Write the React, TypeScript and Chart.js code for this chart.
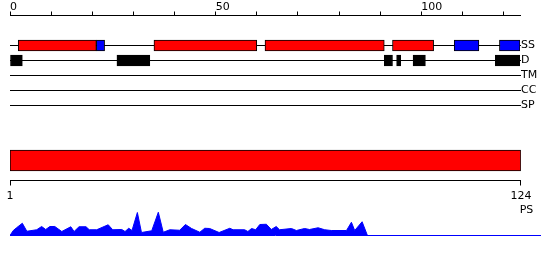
import React, { useEffect, useRef } from 'react';
import { Chart, registerables } from 'chart.js';

Chart.register(...registerables);

const FONT = 'DejaVu Sans';
Chart.defaults.font.family = FONT;

// ---- Feature tracks (residue ranges) ----
const TRACKS = ['SS', 'D', 'TM', 'CC', 'SP'];
const HELIX: [number, number][] = [[2, 21], [35, 60], [62, 91], [93, 103]];
const STRAND: [number, number][] = [[21, 23], [108, 114], [119, 124]];
const DISORDER: [number, number][] = [[0, 3], [26, 34], [91, 93], [94, 95], [98, 101], [118, 124]];
const SEQ_MIN = 0;
const SEQ_MAX = 124;
const TOP_TICK_STEP = 10;
const TOP_TICK_LABELS = [0, 50, 100];

// ---- Domain bar ----
const PS_LABEL = 'PS';
const PS_RANGE: [number, number] = [1, 124];
const PS_TICKS = [1, 124];

// ---- Profile ----
const PROFILE_POS = [0, 0.8, 1.6, 3.0, 4.1, 6.5, 7.7, 8.7, 9.7, 10.9, 12.6, 14.8, 15.6, 16.8, 18.5, 19.3, 21.1, 23.9, 25.0, 27.2, 28.0, 28.9, 29.7, 31.0, 32.0, 34.5, 36.1, 37.3, 38.9, 41.3, 42.7, 44.2, 46.2, 47.4, 48.6, 50.9, 53.5, 54.3, 57.1, 57.9, 58.8, 59.8, 60.8, 62.4, 63.6, 64.8, 65.6, 68.5, 69.7, 71.7, 72.9, 75.0, 76.6, 78.2, 81.9, 83.1, 83.9, 85.7, 87.0];
const PROFILE_VAL = [0, 0.2, 0.31, 0.49, 0.17, 0.23, 0.36, 0.24, 0.36, 0.36, 0.16, 0.35, 0.16, 0.35, 0.35, 0.23, 0.23, 0.43, 0.23, 0.24, 0.16, 0.29, 0.2, 0.92, 0.12, 0.19, 0.93, 0.13, 0.23, 0.21, 0.44, 0.28, 0.13, 0.29, 0.28, 0.12, 0.29, 0.23, 0.23, 0.16, 0.28, 0.23, 0.44, 0.45, 0.24, 0.36, 0.23, 0.28, 0.2, 0.28, 0.24, 0.31, 0.23, 0.2, 0.2, 0.53, 0.2, 0.55, 0];
const PROFILE_X_MAX = 129;

const COLOR_HELIX = '#ff0000';
const COLOR_STRAND = '#0000ff';
const COLOR_DISORDER = '#000000';
const COLOR_PROFILE = '#0000ff';
const TEXT = '#000000';

const font = { family: FONT, size: 11, weight: 'normal' as const };

function TrackChart() {
  const ref = useRef<HTMLCanvasElement>(null);
  useEffect(() => {
    const rowLabels = ['', '', ...TRACKS];
    const bars = [
      ...HELIX.map((r) => ({ y: TRACKS[0], x: r, c: COLOR_HELIX })),
      ...STRAND.map((r) => ({ y: TRACKS[0], x: r, c: COLOR_STRAND })),
      ...DISORDER.map((r) => ({ y: TRACKS[1], x: r, c: COLOR_DISORDER })),
    ];
    const chart = new Chart(ref.current!, {
      type: 'bar',
      data: {
        labels: rowLabels,
        datasets: [
          {
            data: bars.map((b) => ({ x: [b.x[0], b.x[1]], y: b.y })) as any,
            backgroundColor: bars.map((b) => b.c),
            borderColor: '#000',
            borderWidth: 1,
            borderSkipped: false,
            barThickness: 11,
          },
        ],
      },
      options: {
        animation: false,
        responsive: false,
        indexAxis: 'y',
        layout: { padding: { left: 10, right: 0, top: 0, bottom: 9.5 } },
        plugins: { legend: { display: false }, tooltip: { enabled: false } },
        scales: {
          x: {
            type: 'linear',
            position: 'top',
            min: SEQ_MIN,
            max: SEQ_MAX,
            ticks: {
              stepSize: TOP_TICK_STEP,
              includeBounds: false,
              autoSkip: false,
              maxRotation: 0,
              align: 'start',
              padding: -2,
              color: TEXT,
              font,
              callback: (v: any) => (TOP_TICK_LABELS.includes(Number(v)) ? String(v) : ''),
            },
            grid: { drawOnChartArea: false, tickLength: 4, color: '#000' },
            border: { color: '#000' },
            afterFit: (s: any) => {
              s.height = 15.5;
            },
          },
          y: {
            type: 'category',
            position: 'right',
            offset: false,
            grid: {
              offset: false,
              color: (c: any) => (c.index < 2 ? 'rgba(0,0,0,0)' : '#000'),
              tickLength: 1,
            },
            border: { display: false },
            ticks: { padding: 0, color: TEXT, font, autoSkip: false },
            afterFit: (s: any) => {
              s.width = 30;
            },
          },
        },
      },
    });
    return () => chart.destroy();
  }, []);
  return <canvas ref={ref} width={550} height={115} style={{ position: 'absolute', left: 0, top: 0 }} />;
}

function DomainChart() {
  const ref = useRef<HTMLCanvasElement>(null);
  useEffect(() => {
    const chart = new Chart(ref.current!, {
      type: 'bar',
      data: {
        labels: [PS_LABEL],
        datasets: [
          {
            data: [{ x: [PS_RANGE[0], PS_RANGE[1]], y: PS_LABEL }] as any,
            backgroundColor: COLOR_HELIX,
            borderColor: '#000',
            borderWidth: 1,
            borderSkipped: false,
            barThickness: 21,
          },
        ],
      },
      options: {
        animation: false,
        responsive: false,
        indexAxis: 'y',
        layout: { padding: { left: 10, right: 16.7, top: 0.5, bottom: 3.1 } },
        plugins: {
          legend: { display: false },
          tooltip: { enabled: false },
          title: {
            display: true,
            text: PS_LABEL,
            position: 'bottom',
            align: 'end',
            color: TEXT,
            font,
            padding: 0,
          },
        },
        scales: {
          x: {
            type: 'linear',
            position: 'bottom',
            min: PS_RANGE[0],
            max: PS_RANGE[1],
            afterBuildTicks: (s: any) => {
              s.ticks = PS_TICKS.map((v) => ({ value: v }));
            },
            ticks: { autoSkip: false, maxRotation: 0, padding: 4, color: TEXT, font },
            grid: { drawOnChartArea: false, tickLength: 5, color: '#000' },
            border: { color: '#000' },
            afterFit: (s: any) => {
              s.height = 23.2;
            },
          },
          y: {
            type: 'category',
            position: 'right',
            offset: true,
            ticks: { display: false },
            grid: { display: false },
            border: { display: false },
            afterFit: (s: any) => {
              s.width = 12.4;
            },
          },
        },
      },
    });
    return () => chart.destroy();
  }, []);
  return <canvas ref={ref} width={550} height={80} style={{ position: 'absolute', left: 0, top: 140 }} />;
}

function ProfileChart() {
  const ref = useRef<HTMLCanvasElement>(null);
  useEffect(() => {
    const chart = new Chart(ref.current!, {
      type: 'line',
      data: {
        datasets: [
          {
            data: PROFILE_POS.map((p, i) => ({ x: p, y: PROFILE_VAL[i] })),
            borderColor: COLOR_PROFILE,
            backgroundColor: COLOR_PROFILE,
            borderWidth: 1,
            fill: 'origin',
            pointRadius: 0,
            tension: 0,
          },
        ],
      },
      options: {
        animation: false,
        responsive: false,
        layout: { padding: { left: 10, right: 10, top: 5.5, bottom: 4.5 } },
        plugins: { legend: { display: false }, tooltip: { enabled: false } },
        scales: {
          x: {
            type: 'linear',
            min: 0,
            max: PROFILE_X_MAX,
            ticks: { display: false },
            grid: { drawOnChartArea: false, drawTicks: false },
            border: { color: COLOR_PROFILE, width: 1 },
            afterFit: (s: any) => {
              s.height = 0;
            },
          },
          y: { display: false, min: 0, max: 1 },
        },
      },
    });
    return () => chart.destroy();
  }, []);
  return <canvas ref={ref} width={550} height={35} style={{ position: 'absolute', left: 0, top: 205 }} />;
}

export default function App() {
  return (
    <div style={{ position: 'absolute', left: 0, top: 0, width: 550, height: 260, background: '#fff' }}>
      <TrackChart />
      <DomainChart />
      <ProfileChart />
    </div>
  );
}
